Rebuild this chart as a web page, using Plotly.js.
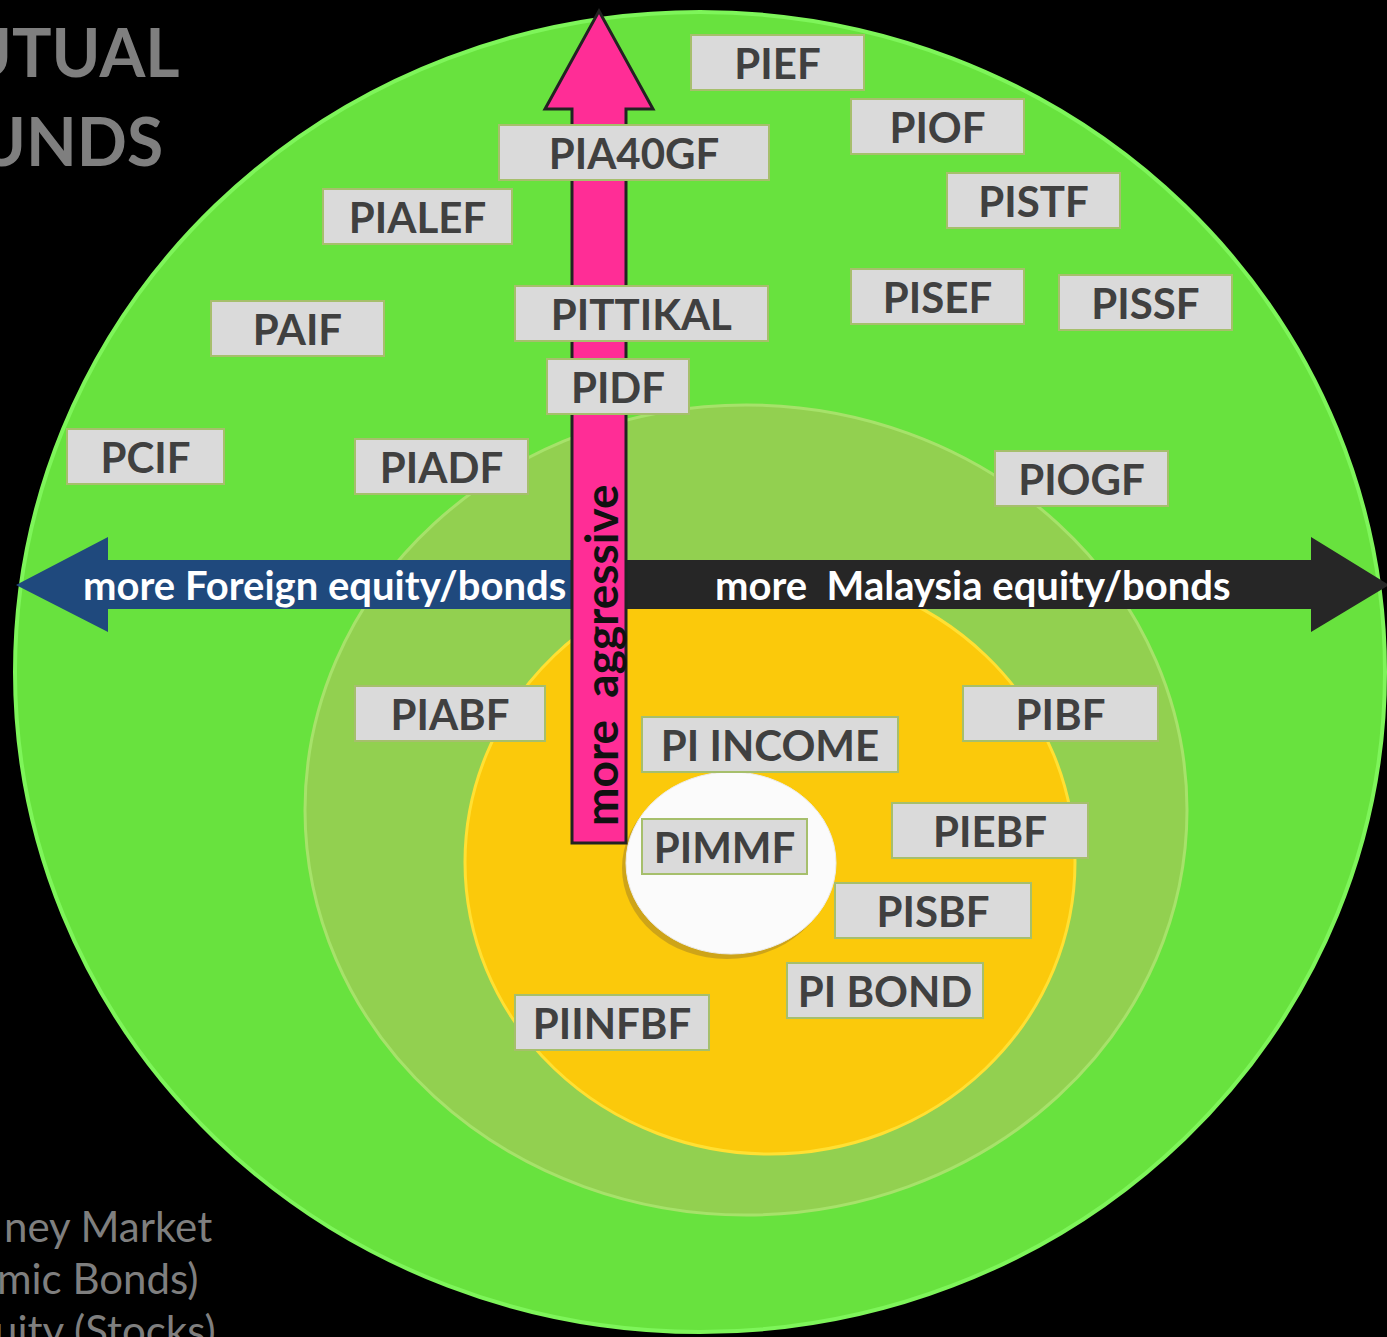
<!DOCTYPE html>
<html><head><meta charset="utf-8">
<script src="https://cdn.plot.ly/plotly-3.0.1.min.js"></script>
<style>html,body{margin:0;padding:0;background:#000;overflow:hidden;}</style>
</head><body><div id="chart" style="width:1387px;height:1337px;"></div>
<script>
// ---- data ----
const fundNames = ["PIEF","PIOF","PIA40GF","PISTF","PIALEF","PAIF","PITTIKAL","PISEF","PISSF","PIDF","PCIF","PIADF","PIOGF","PIABF","PIBF","PI INCOME","PIMMF","PIEBF","PISBF","PI BOND","PIINFBF"];
const fundX = [777,937,634,1033,417,297,641,937,1145,618,145,441,1081,450,1060,770,724,990,933,885,612];
const fundY = [62,126,152,200,216,328,313,296,302,386,456,466,478,713,713,744,846,830,910,990,1022];
const fundW = [175,175,272,175,191,175,255,175,175,144,159,175,175,192,197,258,167,198,198,198,196];
const arrowLabels = ["more Foreign equity/bonds", "more\u00a0 Malaysia equity/bonds", "more\u00a0 aggressive"];
const titleLines = ["UTUAL","UNDS"];
const legendLines = ["ney Market","mic Bonds)","uity (Stocks)"];

// ---- geometry ----
const rings = [
  {cx:700, cy:672, rx:685, ry:660, fill:"#68e23e", line:"#7ef55a", lw:4},
  {cx:746, cy:810, rx:441, ry:405, fill:"#92d050", line:"#a6e26a", lw:3},
  {cx:770, cy:862, rx:305, ry:292, fill:"#fbc90b", line:"#ffe033", lw:3}
];
const whiteDisc = {cx:731, cy:863, rx:105, ry:91};

function ellipse(e, fill, line, lw){
  return {type:"circle", xref:"x", yref:"y", x0:e.cx-e.rx, x1:e.cx+e.rx, y0:e.cy-e.ry, y1:e.cy+e.ry,
          fillcolor:fill, line:{color:line||fill, width:lw||0}, layer:"above"};
}
function poly(pts, fill, line, lw){
  let d = "M" + pts.map(p => p[0] + "," + p[1]).join(" L") + " Z";
  return {type:"path", xref:"x", yref:"y", path:d, fillcolor:fill, line:{color:line||fill, width:lw||0}, layer:"above"};
}

const shapes = [];
rings.forEach(r => shapes.push(ellipse(r, r.fill, r.line, r.lw)));
shapes.push(ellipse({cx:whiteDisc.cx-4, cy:whiteDisc.cy+5, rx:whiteDisc.rx, ry:whiteDisc.ry}, "rgba(150,120,40,0.45)"));
shapes.push(ellipse(whiteDisc, "#fbfbfb", "#ececec", 1));

// horizontal arrows
const hy0 = 560, hy1 = 609, hMid = 585, headT = 537, headB = 632;
shapes.push(poly([[16,hMid],[108,headT],[108,hy0],[575,hy0],[575,hy1],[108,hy1],[108,headB]], "#1f497d"));
shapes.push(poly([[622,hy0],[1311,hy0],[1311,headT],[1389,hMid],[1311,headB],[1311,hy1],[622,hy1]], "#262626"));
// vertical arrow
shapes.push(poly([[572,843],[572,109],[545,109],[599,11],[653,109],[626,109],[626,843]], "#ff2d96", "#222222", 3));

const annotations = [];
fundNames.forEach((n, i) => {
  annotations.push({text:n, x:fundX[i], y:fundY[i], xref:"x", yref:"y", showarrow:false,
    xanchor:"center", yanchor:"middle",
    bgcolor:"#dadada", bordercolor:"#a6bf6c", borderwidth:2, borderpad:0,
    width:fundW[i]-4, height:53,
    font:{family:"Lato, 'Open Sans', sans-serif", size:42, color:"#404040", weight:700}});
});
annotations.push({text:arrowLabels[0], x:324, y:585, xref:"x", yref:"y", showarrow:false,
  font:{family:"Lato, sans-serif", size:40, color:"#ffffff", weight:700}});
annotations.push({text:arrowLabels[1], x:973, y:585, xref:"x", yref:"y", showarrow:false,
  font:{family:"Lato, sans-serif", size:40, color:"#ffffff", weight:700}});
annotations.push({text:arrowLabels[2], x:600, y:655, xref:"x", yref:"y", showarrow:false, textangle:-90,
  font:{family:"Lato, sans-serif", size:46, color:"#111111", weight:700}});

const titleY = [51, 140];
const titleRight = [182, 165];
titleLines.forEach((t, i) => annotations.push({text:t, x:titleRight[i], y:titleY[i], xref:"x", yref:"y",
  xanchor:"right", yanchor:"middle", showarrow:false,
  font:{family:"Lato, sans-serif", size:66, color:"#7f7f7f", weight:700}}));
const legY = [1226, 1278, 1330];
const legRight = [214, 201, 218];
legendLines.forEach((t, i) => annotations.push({text:t, x:legRight[i], y:legY[i], xref:"x", yref:"y",
  xanchor:"right", yanchor:"middle", showarrow:false,
  font:{family:"Lato, sans-serif", size:42, color:"#7f7f7f"}}));

const layout = {
  width:1387, height:1337, margin:{l:0,r:0,t:0,b:0},
  paper_bgcolor:"#000000", plot_bgcolor:"#000000", showlegend:false,
  xaxis:{range:[0,1387], visible:false, fixedrange:true},
  yaxis:{range:[1337,0], visible:false, fixedrange:true},
  shapes:shapes, annotations:annotations
};
Plotly.newPlot("chart", [{x:[], y:[], type:"scatter", mode:"markers", hoverinfo:"skip"}], layout, {displayModeBar:false, staticPlot:true});
</script>
</body></html>
